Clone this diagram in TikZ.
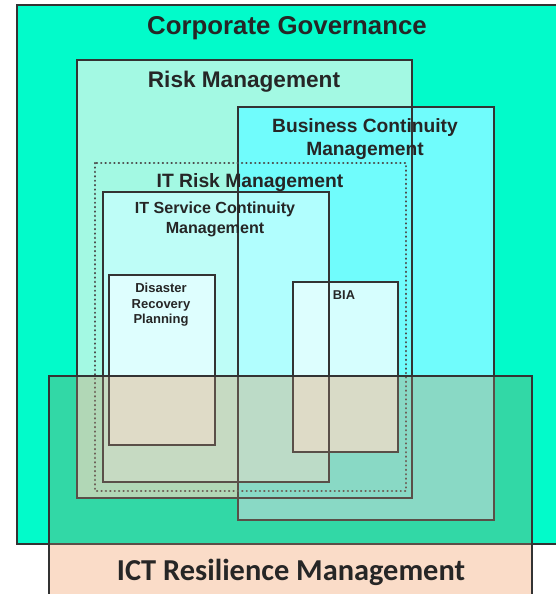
\documentclass[tikz,border=0pt]{standalone}
\usepackage{fontspec}
\setmainfont{Liberation Sans}
\newfontfamily\ictfont{Carlito}
\definecolor{corpgreen}{HTML}{02FBCA}
\definecolor{riskfill}{HTML}{A3F9E3}
\definecolor{bcmfill}{HTML}{70FCFC}
\definecolor{itscfill}{HTML}{C8FFFF}
\definecolor{planfill}{HTML}{E2FFFF}
\definecolor{ictpeach}{HTML}{FADCC8}
\definecolor{boxline}{HTML}{333333}
\tikzset{
  boxedge/.style={draw=boxline, line width=1.4pt},
  dotedge/.style={draw=black!70, line width=2.2pt, line cap=round, dash pattern=on 0.3pt off 4.1pt},
  lbl/.style={text=black!85, font=\bfseries, align=center, inner sep=0pt, anchor=base},
}
\begin{document}
\begin{tikzpicture}[x=1pt,y=-1pt]
  \useasboundingbox (0,0) rectangle (556,594);
  % fills
  \fill[corpgreen] (17,5) rectangle (556,544);
  \fill[riskfill] (77,60) rectangle (412,498);
  \fill[bcmfill] (238,107) rectangle (494,520);
  \fill[itscfill, fill opacity=0.75] (103,192) rectangle (329,482);
  \fill[planfill, fill opacity=0.9] (109,275) rectangle (215,445);
  \fill[planfill, fill opacity=0.9] (293,282) rectangle (398,452);
  % outlines
  \draw[boxedge] (556,5) -- (17,5) -- (17,544) -- (556,544);
  \draw[boxedge] (77,60) rectangle (412,498);
  \draw[boxedge] (238,107) rectangle (494,520);
  \draw[dotedge] (95,163) rectangle (406,491);
  \draw[boxedge] (103,192) rectangle (329,482);
  \draw[boxedge] (109,275) rectangle (215,445);
  \draw[boxedge] (293,282) rectangle (398,452);
  % labels (multi-line ones sit on their last baseline)
  \node[lbl, font=\bfseries\fontsize{25.8}{30}\selectfont] (corp) at (287,35) {Corporate Governance};
  \node[lbl, font=\bfseries\fontsize{22.6}{26}\selectfont] (risk) at (244,87) {Risk Management};
  \node[lbl, font=\bfseries\fontsize{19.2}{23}\selectfont] (bcm) at (365,155) {Business Continuity\\Management};
  \node[lbl, font=\bfseries\fontsize{19.3}{23}\selectfont] (itrisk) at (250,187) {IT Risk Management};
  \node[lbl, font=\bfseries\fontsize{16.1}{20}\selectfont] (itsc) at (215,233) {IT Service Continuity\\Management};
  \node[lbl, font=\bfseries\fontsize{13}{15.5}\selectfont] (drp) at (161,323.5) {Disaster\\Recovery\\Planning};
  \node[lbl, font=\bfseries\fontsize{12.8}{15.5}\selectfont] (bia) at (344,299.5) {BIA};
  % ICT Resilience Management
  \begin{scope}[blend mode=multiply]
    \fill[ictpeach] (49,376) rectangle (532,594);
  \end{scope}
  \fill[ictpeach, fill opacity=0.2] (49,376) rectangle (532,594);
  \draw[boxedge] (49,594) -- (49,376) -- (532,376) -- (532,594);
  \node[lbl, font=\ictfont\bfseries\fontsize{30.4}{34}\selectfont] (ict) at (291,580) {ICT Resilience Management};
\end{tikzpicture}
\end{document}
